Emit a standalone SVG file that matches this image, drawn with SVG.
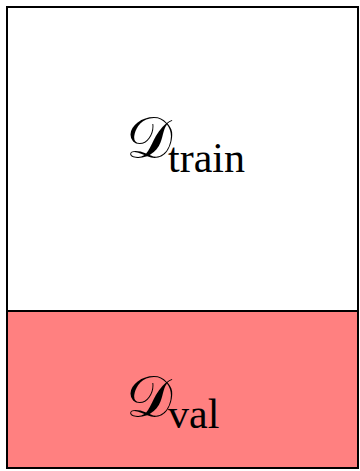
<svg xmlns="http://www.w3.org/2000/svg" width="360" height="471" viewBox="0 0 360 471">
<style>
.box{stroke:#000;stroke-width:2}
.lbl{font-family:"Liberation Serif","DejaVu Serif",serif;fill:#000}
.cal{font-size:58px}
.sub{font-size:42px}
</style>
<g id="train">
<rect class="box" x="7" y="7" width="351" height="304" fill="#ffffff"/>
<text class="lbl" x="126" y="158"><tspan class="cal">𝒟</tspan><tspan class="sub" x="168" y="172">train</tspan></text>
</g>
<g id="val">
<rect class="box" x="7" y="311" width="351" height="157" fill="#ff8080"/>
<text class="lbl" x="126" y="417"><tspan class="cal">𝒟</tspan><tspan class="sub" x="168" y="428">val</tspan></text>
</g>
<g id="connectors"/>
</svg>
